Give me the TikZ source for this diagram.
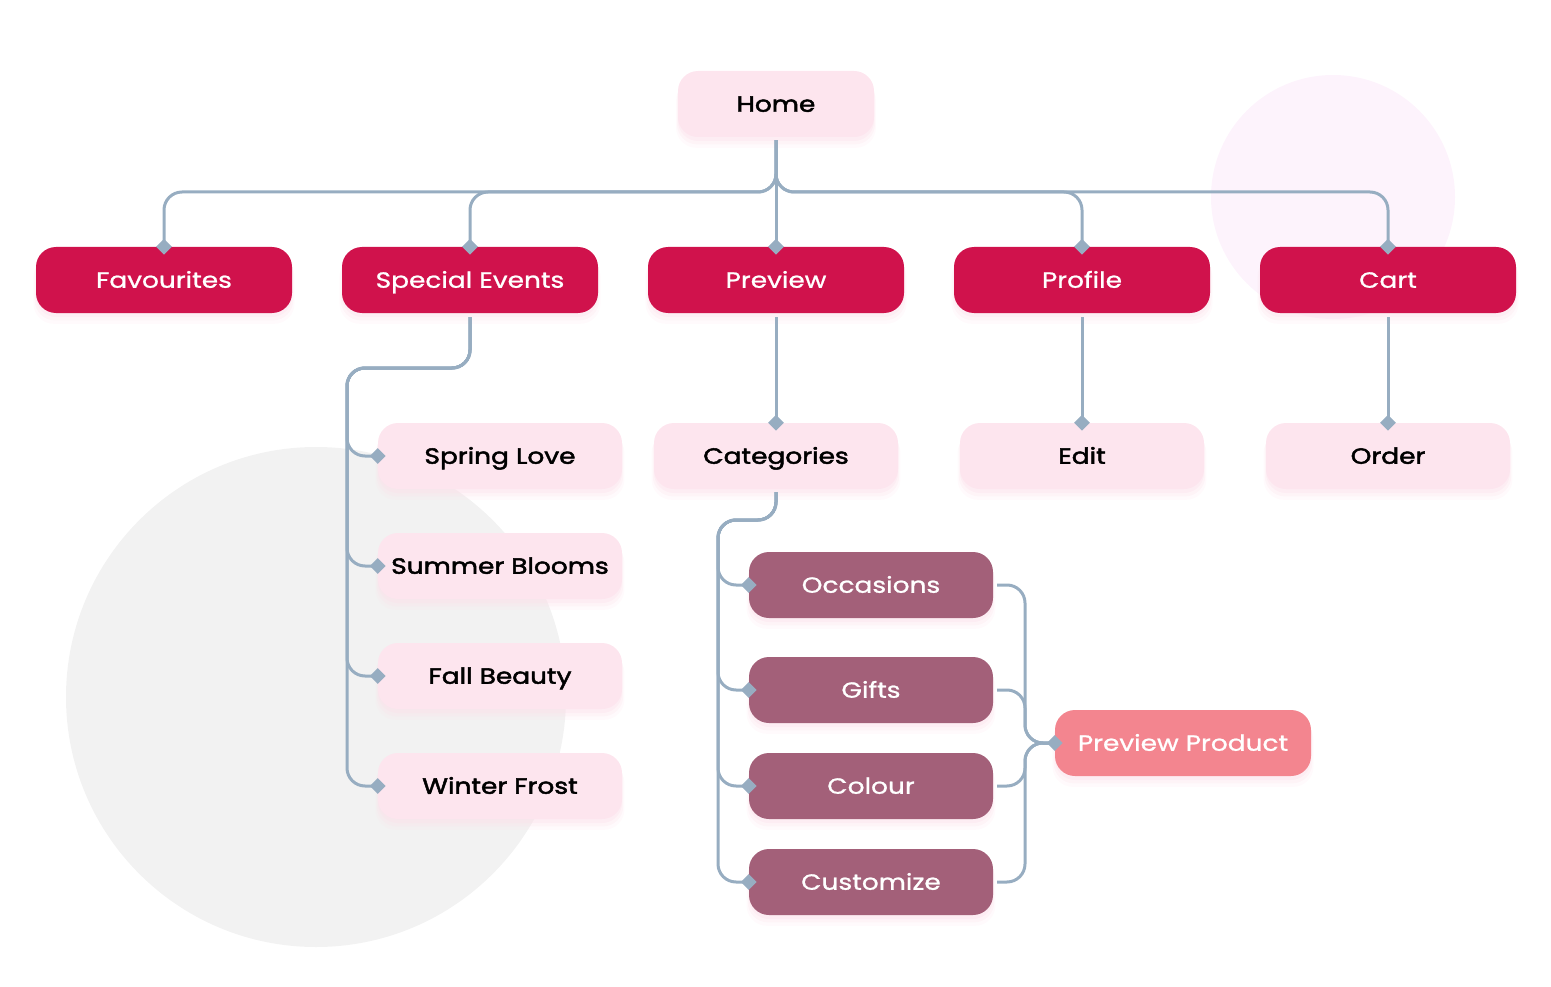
\documentclass[tikz,border=0pt]{standalone}
\usepackage{fontspec}
\setmainfont{Poppins}[FakeStretch=1.2]
\newfontfamily\wfont{Poppins}[FakeStretch=1.2, FakeBold=1]
\newfontfamily\kfont{Poppins}[FakeStretch=1.2, FakeBold=2.2]
\usetikzlibrary{shapes.geometric,shadows}
\definecolor{crimson}{HTML}{D0124C}
\definecolor{lpink}{HTML}{FDE5EE}
\definecolor{mauve}{HTML}{A36079}
\definecolor{salmon}{HTML}{F3858F}
\definecolor{linec}{HTML}{97ADC1}
\definecolor{greyc}{HTML}{F2F2F2}
\definecolor{pinkc}{HTML}{FDF3FC}
\definecolor{shadowc}{HTML}{FCE0EA}
\tikzset{
  box/.style={rectangle, rounded corners=20pt, minimum height=66pt, inner sep=0pt,
    text height=15.5pt, text depth=0pt,
    drop shadow={shadow xshift=0pt, shadow yshift=-10pt, shadow scale=1.02, fill=shadowc, opacity=0.15},
    drop shadow={shadow xshift=0pt, shadow yshift=-7pt, shadow scale=1.01, fill=shadowc, opacity=0.25},
    drop shadow={shadow xshift=0pt, shadow yshift=-4pt, fill=shadowc, opacity=0.35}},
  topbox/.style={box, fill=crimson, text=white, minimum width=256pt, font=\wfont\fontsize{22}{26}\selectfont},
  lightbox/.style={box, fill=lpink, text=black, minimum width=244pt, font=\kfont\fontsize{22}{26}\selectfont},
  homebox/.style={box, fill=lpink, text=black, minimum width=196pt, font=\kfont\fontsize{22}{26}\selectfont},
  mauvebox/.style={box, fill=mauve, text=white, minimum width=244pt, font=\wfont\fontsize{22}{26}\selectfont},
  salmonbox/.style={box, fill=salmon, text=white, minimum width=256pt, font=\wfont\fontsize{22}{26}\selectfont},
  conn/.style={draw=linec, line width=3pt, rounded corners=18pt},
  dia/.style={diamond, fill=linec, minimum width=16pt, minimum height=16pt, inner sep=0pt},
}
\begin{document}
\begin{tikzpicture}[x=1pt,y=-1pt]
\useasboundingbox (0,0) rectangle (1551,987);
% background circles
\fill[pinkc] (1333,197) circle (122pt);
\fill[greyc] (316,697) circle (250pt);
% nodes
\node[homebox] (home) at (776,104) {Home};
\node[topbox] (fav) at (164,280) {Favourites};
\node[topbox] (se) at (470,280) {Special Events};
\node[topbox] (prev) at (776,280) {Preview};
\node[topbox] (prof) at (1082,280) {Profile};
\node[topbox] (cart) at (1388,280) {Cart};
\node[lightbox] (spring) at (500,456) {Spring Love};
\node[lightbox] (summer) at (500,566) {Summer Blooms};
\node[lightbox] (fall) at (500,676) {Fall Beauty};
\node[lightbox] (winter) at (500,786) {Winter Frost};
\node[lightbox] (cat) at (776,456) {Categories};
\node[lightbox] (edit) at (1082,456) {Edit};
\node[lightbox] (order) at (1388,456) {Order};
\node[mauvebox] (occ) at (871,585) {Occasions};
\node[mauvebox] (gifts) at (871,690) {Gifts};
\node[mauvebox] (colour) at (871,786) {Colour};
\node[mauvebox] (cust) at (871,882) {Customize};
\node[salmonbox] (pp) at (1183,743) {Preview Product};
% bus coordinates
\coordinate (hs) at ([yshift=-3pt]home.south);
\coordinate (bus) at (776,192);
\coordinate (sebus) at (347,368);
\coordinate (catbus) at (718,520);
\coordinate (ppbus) at (1025,743);
% connectors from Home
\foreach \n in {fav,se,prof,cart}{
  \draw[conn] (hs) -- (hs |- bus) -- (\n.north |- bus) -- (\n.north);
}
\draw[conn] (hs) -- (prev.north);
% Special Events children
\foreach \n in {spring,summer,fall,winter}{
  \draw[conn] ([yshift=-4pt]se.south) -- (se.south |- sebus) -- (sebus) -- (sebus |- \n.west) -- (\n.west);
}
% straight children
\draw[conn] ([yshift=-4pt]prev.south) -- (cat.north);
\draw[conn] ([yshift=-4pt]prof.south) -- (edit.north);
\draw[conn] ([yshift=-4pt]cart.south) -- (order.north);
% Categories children
\foreach \n in {occ,gifts,colour,cust}{
  \draw[conn] ([yshift=-3pt]cat.south) -- (cat.south |- catbus) -- (catbus) -- (catbus |- \n.west) -- (\n.west);
}
% merge into Preview Product
\foreach \n in {occ,gifts,colour,cust}{
  \draw[conn] ([xshift=4pt]\n.east) -- (ppbus |- \n.east) -- (ppbus) -- (pp.west);
}
% diamonds
\foreach \n in {fav,se,prev,prof,cart,cat,edit,order}{
  \node[dia] at (\n.north) {};
}
\foreach \n in {spring,summer,fall,winter,occ,gifts,colour,cust,pp}{
  \node[dia] at (\n.west) {};
}
\end{tikzpicture}
\end{document}
